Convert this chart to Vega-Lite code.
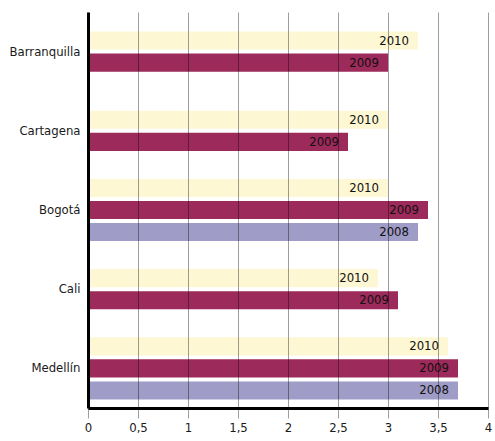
{
  "$schema": "https://vega.github.io/schema/vega-lite/v6.json",
  "width": 400,
  "height": 396,
  "autosize": {"type": "none"},
  "padding": {"left": 88, "top": 12, "right": 7, "bottom": 33},
  "background": "white",
  "config": {
    "view": {"stroke": null},
    "font": "DejaVu Sans Condensed"
  },
  "data": {
    "values": [
      {"city": "Barranquilla", "year": "2010", "value": 3.3},
      {"city": "Barranquilla", "year": "2009", "value": 3.0},
      {"city": "Cartagena", "year": "2010", "value": 3.0},
      {"city": "Cartagena", "year": "2009", "value": 2.6},
      {"city": "Bogotá", "year": "2010", "value": 3.0},
      {"city": "Bogotá", "year": "2009", "value": 3.4},
      {"city": "Bogotá", "year": "2008", "value": 3.3},
      {"city": "Cali", "year": "2010", "value": 2.9},
      {"city": "Cali", "year": "2009", "value": 3.1},
      {"city": "Medellín", "year": "2010", "value": 3.6},
      {"city": "Medellín", "year": "2009", "value": 3.7},
      {"city": "Medellín", "year": "2008", "value": 3.7}
    ]
  },
  "encoding": {
    "y": {
      "field": "city", "type": "nominal",
      "sort": ["Barranquilla", "Cartagena", "Bogotá", "Cali", "Medellín"],
      "scale": {"paddingInner": 0, "paddingOuter": 0},
      "axis": {
        "title": null, "ticks": false, "labelPadding": 8,
        "labelFontSize": 13, "labelFontWeight": "normal", "labelColor": "#1a1a1a",
        "domainColor": "#000", "domainWidth": 3, "zindex": 2,
        "labelFont": "DejaVu Sans Condensed"
      }
    },
    "x": {
      "field": "value", "type": "quantitative",
      "scale": {"domain": [0, 4], "nice": false},
      "axis": {
        "title": null, "values": [0, 0.5, 1, 1.5, 2, 2.5, 3, 3.5, 4],
        "labelExpr": "replace(format(datum.value, '~g'), '.', ',')",
        "labelOverlap": false, "labelFlush": false,
        "grid": true, "gridColor": "#000", "gridOpacity": 0.38, "gridWidth": 1,
        "tickColor": "#000", "tickOpacity": 0.38, "tickSize": 10,
        "domainColor": "#000", "domainWidth": 3,
        "labelFontSize": 13, "labelColor": "#1a1a1a", "labelPadding": 3,
        "labelFont": "DejaVu Sans Condensed", "zindex": 1
      }
    }
  },
  "layer": [
    {
      "transform": [{"filter": {"field": "city", "oneOf": ["Bogotá", "Medellín"]}}],
      "encoding": {
        "yOffset": {
          "field": "year", "type": "nominal",
          "sort": ["2010", "2009", "2008"],
          "scale": {"paddingInner": 0.18, "paddingOuter": 0.385}
        }
      },
      "layer": [
        {
          "mark": {"type": "bar"},
          "encoding": {
            "color": {
              "field": "year", "type": "nominal",
              "scale": {"domain": ["2010", "2009", "2008"], "range": ["#FDF7D3", "#9C2A5A", "#A09CC8"]},
              "legend": null
            }
          }
        },
        {
          "mark": {"type": "text", "align": "right", "dx": -9, "fontSize": 13, "color": "#111", "baseline": "middle"},
          "encoding": {"text": {"field": "year"}}
        }
      ]
    },
    {
      "transform": [{"filter": {"field": "city", "oneOf": ["Barranquilla", "Cartagena", "Cali"]}}],
      "encoding": {
        "yOffset": {
          "field": "year", "type": "nominal",
          "sort": ["2010", "2009"],
          "scale": {"paddingInner": 0.18, "paddingOuter": 0.885}
        }
      },
      "layer": [
        {
          "mark": {"type": "bar"},
          "encoding": {
            "color": {
              "field": "year", "type": "nominal",
              "scale": {"domain": ["2010", "2009", "2008"], "range": ["#FDF7D3", "#9C2A5A", "#A09CC8"]},
              "legend": null
            }
          }
        },
        {
          "mark": {"type": "text", "align": "right", "dx": -9, "fontSize": 13, "color": "#111", "baseline": "middle"},
          "encoding": {"text": {"field": "year"}}
        }
      ]
    }
  ],
  "resolve": {"scale": {"yOffset": "independent"}}
}
